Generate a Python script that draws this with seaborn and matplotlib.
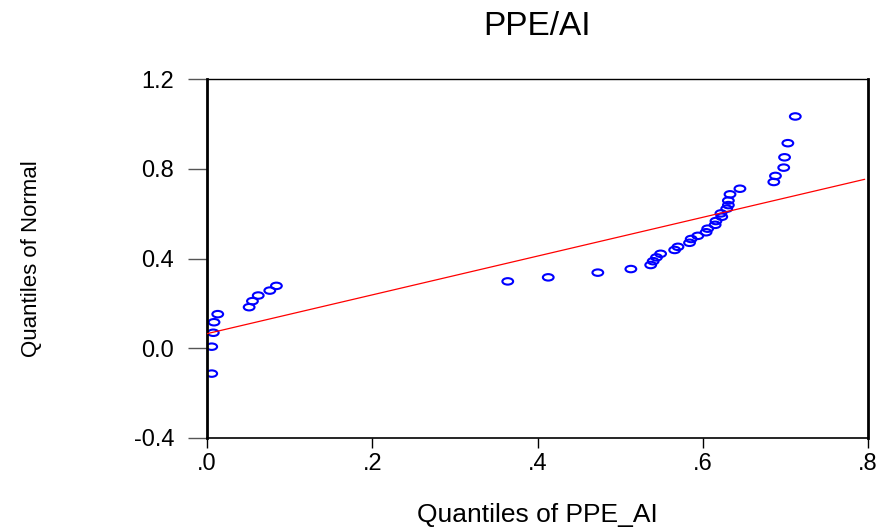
import numpy as np
import matplotlib
matplotlib.use('Agg')
import matplotlib.pyplot as plt
from matplotlib.path import Path
import seaborn as sns

# Q-Q plot values
ppe_quantiles = [
    0.0057, 0.0057, 0.0076, 0.0085, 0.013, 0.051, 0.055, 0.062, 0.076, 0.084,
    0.364, 0.413, 0.473, 0.513,
    0.537, 0.540, 0.544, 0.549, 0.566, 0.570, 0.584, 0.586, 0.594, 0.604,
    0.606, 0.615, 0.616, 0.623, 0.622, 0.629, 0.631, 0.631, 0.633, 0.645,
    0.686, 0.688, 0.698, 0.699, 0.703, 0.712,
]
normal_quantiles = [
    -0.113, 0.007, 0.069, 0.116, 0.152, 0.183, 0.210, 0.235, 0.257, 0.278,
    0.298, 0.316, 0.337, 0.353,
    0.371, 0.388, 0.405, 0.421, 0.438, 0.452, 0.470, 0.487, 0.501, 0.517,
    0.533, 0.550, 0.567, 0.586, 0.601, 0.622, 0.638, 0.658, 0.686, 0.711,
    0.741, 0.768, 0.805, 0.851, 0.914, 1.033,
]

# reference line end points
fit_x = [0.0, 0.796]
fit_y = [0.065, 0.753]

x_ticks = [0.0, 0.2, 0.4, 0.6, 0.8]
x_tick_labels = ['.0', '.2', '.4', '.6', '.8']
y_ticks = [-0.4, 0.0, 0.4, 0.8, 1.2]
y_tick_labels = ['-0.4', '0.0', '0.4', '0.8', '1.2']

sns.set_style('white')
plt.rcParams['font.family'] = ['Liberation Sans', 'DejaVu Sans']
plt.rcParams['text.color'] = 'black'
plt.rcParams['axes.labelcolor'] = 'black'
plt.rcParams['xtick.color'] = 'black'
plt.rcParams['ytick.color'] = 'black'

fig = plt.figure(figsize=(8.87, 5.31), dpi=100)
ax = fig.add_axes([207 / 887, 1 - 438 / 531, 661 / 887, 359 / 531])

# flat ellipse marker, like the EViews circles
circle = Path.unit_circle()
ellipse = Path(circle.vertices * np.array([1.0, 0.6]), circle.codes)

sns.scatterplot(x=ppe_quantiles, y=normal_quantiles, ax=ax, marker=ellipse,
                s=60, facecolors='none', edgecolors='#0000ff', linewidths=1.5,
                zorder=2)
sns.lineplot(x=fit_x, y=fit_y, ax=ax, color='red', linewidth=0.9, zorder=3)

ax.set_xlim(0.0, 0.8)
ax.set_ylim(-0.4, 1.2)
ax.set_xticks(x_ticks)
ax.set_xticklabels(x_tick_labels, fontsize=17)
ax.set_yticks(y_ticks)
ax.set_yticklabels(y_tick_labels, fontsize=17)

ax.tick_params(axis='y', direction='out', length=13.5, width=1.0,
               pad=10, color='#555555', labelcolor='black', left=True)
ax.tick_params(axis='x', direction='out', length=7.5, width=1.0,
               pad=3, color='black', labelcolor='black', bottom=True)

for side in ['left', 'right', 'top', 'bottom']:
    ax.spines[side].set_visible(True)
    ax.spines[side].set_color('black')
ax.spines['left'].set_linewidth(2.0)
ax.spines['right'].set_linewidth(2.0)
ax.spines['top'].set_linewidth(1.0)
ax.spines['bottom'].set_linewidth(1.2)

ax.set_title('PPE/AI', fontsize=24, pad=32, color='black')
ax.set_xlabel('Quantiles of PPE_AI', fontsize=19)
ax.xaxis.label.set_va('baseline')
ax.xaxis.set_label_coords(0.5, -0.235)
ax.set_ylabel('Quantiles of Normal', fontsize=16)
ax.yaxis.set_label_coords(-0.25, 0.5)

fig.savefig('out.png', dpi=100)
plt.close(fig)
